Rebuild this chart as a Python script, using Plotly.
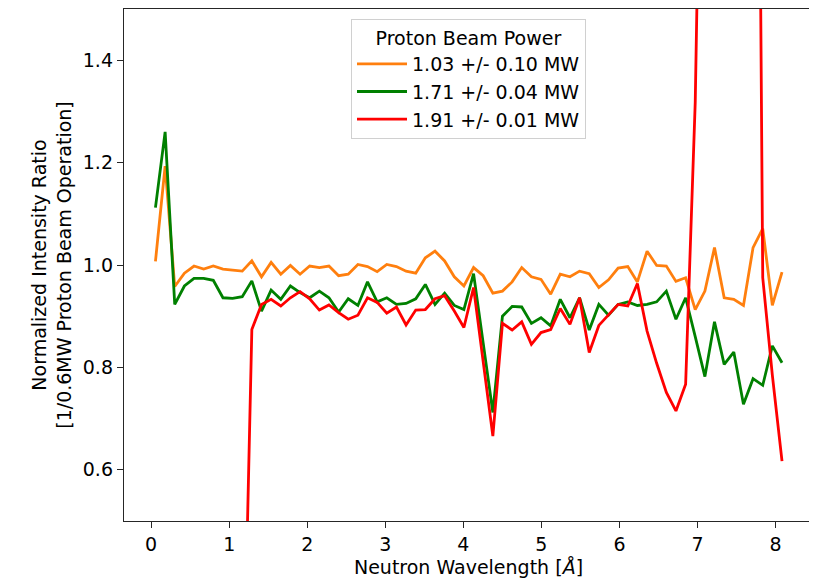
import plotly.graph_objects as go

# Neutron wavelength bin centres [Å]
wavelength = [0.055, 0.179, 0.302, 0.426, 0.549, 0.673, 0.796, 0.920, 1.043, 1.167,
              1.290, 1.414, 1.537, 1.661, 1.784, 1.908, 2.031, 2.155, 2.278, 2.402,
              2.525, 2.649, 2.772, 2.896, 3.019, 3.143, 3.266, 3.390, 3.513, 3.637,
              3.760, 3.884, 4.007, 4.131, 4.254, 4.378, 4.501, 4.625, 4.748, 4.872,
              4.995, 5.119, 5.242, 5.366, 5.489, 5.613, 5.736, 5.860, 5.983, 6.107,
              6.230, 6.354, 6.477, 6.601, 6.724, 6.848, 6.971, 7.095, 7.218, 7.342,
              7.465, 7.589, 7.712, 7.836, 7.959, 8.083]

ratio_103 = [1.007, 1.193, 0.958, 0.984, 0.998, 0.992, 0.998, 0.992, 0.990, 0.988,
             1.008, 0.977, 1.005, 0.982, 0.999, 0.982, 0.998, 0.995, 0.998, 0.979,
             0.982, 1.001, 0.997, 0.987, 1.001, 0.997, 0.988, 0.984, 1.014, 1.027,
             1.008, 0.977, 0.959, 0.995, 0.979, 0.945, 0.949, 0.967, 0.995, 0.977,
             0.972, 0.943, 0.982, 0.977, 0.988, 0.983, 0.956, 0.971, 0.994, 0.997,
             0.967, 1.027, 0.999, 0.998, 0.968, 0.975, 0.913, 0.949, 1.034, 0.936,
             0.933, 0.921, 1.034, 1.071, 0.921, 0.986]

ratio_171 = [1.112, 1.260, 0.923, 0.959, 0.974, 0.974, 0.970, 0.936, 0.935, 0.938,
             0.969, 0.910, 0.951, 0.933, 0.959, 0.946, 0.936, 0.949, 0.936, 0.908,
             0.934, 0.921, 0.967, 0.928, 0.936, 0.923, 0.925, 0.934, 0.962, 0.923,
             0.945, 0.921, 0.913, 0.983, 0.848, 0.712, 0.900, 0.919, 0.918, 0.886,
             0.897, 0.881, 0.933, 0.897, 0.936, 0.873, 0.923, 0.902, 0.923, 0.928,
             0.921, 0.923, 0.928, 0.949, 0.894, 0.936, 0.860, 0.782, 0.889, 0.806,
             0.830, 0.728, 0.778, 0.765, 0.842, 0.809]

ratio_191 = [0.0, 0.0, 0.0, 0.0, 0.0, 0.0, 0.0, 0.0, 0.0, 0.04,
             0.874, 0.923, 0.933, 0.920, 0.936, 0.948, 0.934, 0.912, 0.922, 0.907,
             0.894, 0.902, 0.936, 0.927, 0.906, 0.918, 0.883, 0.912, 0.913, 0.934,
             0.940, 0.910, 0.878, 0.956, 0.811, 0.666, 0.886, 0.873, 0.889, 0.845,
             0.868, 0.874, 0.915, 0.884, 0.936, 0.829, 0.882, 0.902, 0.923, 0.920,
             0.964, 0.871, 0.808, 0.751, 0.715, 0.767, 1.318, 2.4, 3.0, 3.2,
             3.2, 3.2, 3.5, 0.975, 0.785, 0.617]

series_names = ["1.03 +/- 0.10 MW", "1.71 +/- 0.04 MW", "1.91 +/- 0.01 MW"]
series_colors = ["#ff7f0e", "#008000", "#ff0000"]
x_ticks = [0, 1, 2, 3, 4, 5, 6, 7, 8]
y_ticks = [0.6, 0.8, 1.0, 1.2, 1.4]

FONT = "DejaVu Sans, Liberation Sans, sans-serif"
FS = 19

fig = go.Figure()
for name, ys, col in zip(series_names, [ratio_103, ratio_171, ratio_191], series_colors):
    fig.add_trace(go.Scatter(x=wavelength, y=ys, mode="lines", name=name,
                             line=dict(color=col, width=2.8)))

axis_common = dict(showline=True, mirror=True, linecolor="#262626", linewidth=1.4,
                   ticks="outside", ticklen=6, tickwidth=1.3, tickcolor="#262626",
                   showgrid=False, zeroline=False,
                   tickfont=dict(family=FONT, size=FS, color="black"))

fig.update_layout(
    width=809, height=574,
    margin=dict(l=116, r=4, t=1, b=61),
    paper_bgcolor="white", plot_bgcolor="white",
    font=dict(family=FONT, size=FS, color="black"),
    xaxis=dict(range=[-0.348, 8.48], tickvals=x_ticks,
               title=dict(text="Neutron Wavelength [<i>Å</i>]", standoff=6,
                          font=dict(family=FONT, size=FS)),
               **axis_common),
    yaxis=dict(range=[0.5, 1.5], tickvals=y_ticks, tickformat=".1f",
               title=dict(text="Normalized Intensity Ratio<br>[1/0.6MW Proton Beam Operation]",
                          standoff=6, font=dict(family=FONT, size=FS)),
               **axis_common),
    legend=dict(x=0.5, xanchor="center", y=0.98, yanchor="top",
                bgcolor="rgba(255,255,255,0.9)", bordercolor="#d0d0d0", borderwidth=1,
                font=dict(family=FONT, size=FS), itemwidth=50,
                title=dict(text="Proton Beam Power", side="top center",
                           font=dict(family=FONT, size=FS)),
                tracegroupgap=0),
    showlegend=True,
)

fig.write_html("out.html")
